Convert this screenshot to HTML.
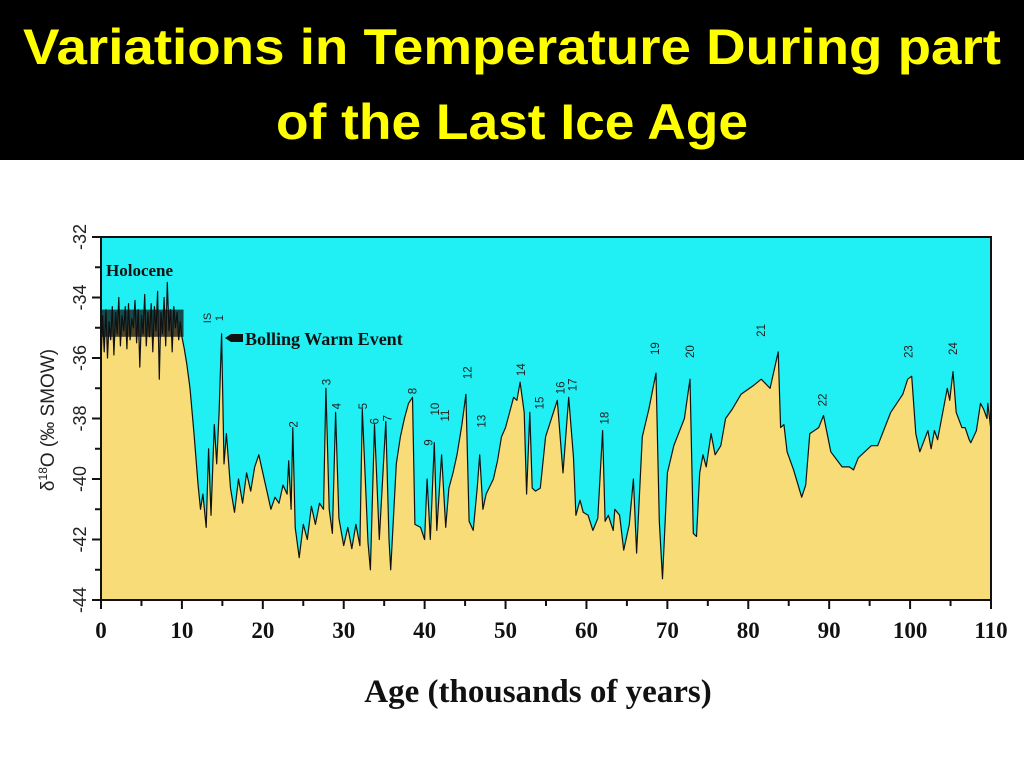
<!DOCTYPE html>
<html><head><meta charset="utf-8"><style>
html,body{margin:0;padding:0;background:#fff;width:1024px;height:768px;overflow:hidden}
svg{display:block}
</style></head><body>
<svg id="chart" width="1024" height="768" viewBox="0 0 1024 768" xmlns="http://www.w3.org/2000/svg">
<rect x="0" y="0" width="1024" height="160" fill="#000"/>
<text x="512" y="64" text-anchor="middle" font-family="Liberation Sans, sans-serif" font-weight="bold" font-size="50" fill="#ffff00" textLength="978" lengthAdjust="spacingAndGlyphs">Variations in Temperature During part</text>
<text x="512" y="139" text-anchor="middle" font-family="Liberation Sans, sans-serif" font-weight="bold" font-size="50" fill="#ffff00" textLength="472" lengthAdjust="spacingAndGlyphs">of the Last Ice Age</text>
<g id="plot"></g>
</svg>
<script>
const ages = [0,0.2,0.4,0.6,0.8,1,1.2,1.4,1.6,1.8,2,2.2,2.4,2.6,2.8,3,3.2,3.4,3.6,3.8,4,4.2,4.4,4.6,4.8,5,5.2,5.4,5.6,5.8,6,6.2,6.4,6.6,6.8,7,7.2,7.4,7.6,7.8,8,8.2,8.4,8.6,8.8,9,9.2,9.4,9.6,9.8,10,10.3,10.6,11,11.5,12,12.3,12.6,13,13.3,13.6,14,14.3,14.6,14.9,15.2,15.5,16,16.5,17,17.5,18,18.5,19,19.5,20,20.5,21,21.5,22,22.5,23,23.2,23.5,23.7,24,24.5,25,25.5,26,26.5,27,27.5,27.8,28.2,28.6,29,29.4,30,30.5,31,31.5,32,32.3,33,33.3,33.8,34.4,35.2,35.6,35.8,36.5,37,37.5,38,38.5,38.8,39.5,40,40.3,40.7,41.2,41.5,42.1,42.6,43,43.5,44,44.6,45.1,45.5,46,46.5,46.8,47.2,47.6,48.5,49,49.5,50,50.5,51,51.4,51.8,52.3,52.6,53,53.3,53.7,54.3,54.95,56.4,57.1,57.8,58.4,58.7,59.2,59.6,60.2,60.8,61.4,62.0,62.3,62.7,63.3,63.5,64.1,64.6,65.3,65.8,66.2,66.9,67.7,68.6,69.0,69.4,70.0,70.8,72.1,72.8,73.2,73.6,74.0,74.4,74.8,75.4,75.9,76.6,77.2,78.0,79.1,80.7,81.6,82.7,83.7,84.0,84.4,84.8,85.6,86.6,87.1,87.6,88.7,89.3,90.2,91.6,92.5,93.0,93.6,95.2,96.0,97.6,99.1,99.7,100.2,100.7,101.2,102.2,102.6,103.0,103.4,104.6,104.9,105.3,105.7,106.4,106.8,107.3,107.5,108.2,108.7,109.1,109.5,109.6,110];
const d18O = [-36.2,-34.6,-35.8,-34.4,-36.0,-34.8,-35.4,-34.3,-35.9,-34.5,-35.2,-34.0,-35.6,-34.6,-35.1,-34.3,-35.7,-34.2,-35.4,-34.7,-35.0,-34.1,-35.5,-34.4,-36.3,-34.6,-35.2,-33.9,-35.6,-34.5,-35.3,-34.2,-35.8,-34.3,-35.1,-33.8,-36.7,-34.5,-35.2,-34.0,-35.6,-33.5,-35.1,-34.4,-35.8,-34.3,-35.0,-34.5,-35.4,-34.8,-35.3,-35.7,-36.2,-37.0,-38.5,-40.2,-41.0,-40.5,-41.6,-39.0,-41.2,-38.2,-39.5,-37.8,-35.2,-39.5,-38.5,-40.3,-41.1,-40.0,-40.8,-39.8,-40.4,-39.6,-39.2,-39.8,-40.4,-41.0,-40.6,-40.8,-40.2,-40.5,-39.4,-41.0,-38.3,-41.6,-42.6,-41.5,-42.0,-40.9,-41.5,-40.8,-41.0,-37.0,-41.0,-41.8,-37.8,-41.3,-42.2,-41.6,-42.3,-41.5,-42.2,-37.7,-42.1,-43.0,-38.2,-42.0,-38.1,-42.0,-43.0,-39.5,-38.6,-38.0,-37.5,-37.3,-41.5,-41.6,-42.0,-40.0,-42.0,-38.8,-41.7,-39.2,-41.6,-40.3,-39.8,-39.2,-38.2,-37.2,-41.4,-41.7,-40.3,-39.2,-41.0,-40.5,-40.0,-39.4,-38.6,-38.3,-37.8,-37.3,-37.4,-36.8,-37.8,-40.5,-37.8,-40.3,-40.4,-40.3,-38.6,-37.4,-39.8,-37.3,-39.3,-41.2,-40.7,-41.1,-41.2,-41.7,-41.3,-38.4,-41.4,-41.2,-41.7,-41.0,-41.2,-42.35,-41.5,-40.0,-42.45,-38.6,-37.7,-36.5,-41.4,-43.3,-39.8,-38.9,-38.0,-36.7,-41.8,-41.9,-39.8,-39.2,-39.6,-38.5,-39.2,-38.9,-38.0,-37.7,-37.2,-36.9,-36.7,-37.0,-35.8,-38.3,-38.2,-39.1,-39.7,-40.6,-40.2,-38.5,-38.3,-37.9,-39.1,-39.6,-39.6,-39.7,-39.3,-38.9,-38.9,-37.8,-37.2,-36.7,-36.6,-38.5,-39.1,-38.4,-39.0,-38.4,-38.7,-37.0,-37.4,-36.45,-37.8,-38.3,-38.3,-38.7,-38.8,-38.4,-37.5,-37.7,-38.0,-37.5,-38.4];
const xTicks = [0,10,20,30,40,50,60,70,80,90,100,110];
const yTicks = [-32,-34,-36,-38,-40,-42,-44];
const eventNames = ["2","3","4","5","6","7","8","9","10","11","12","13","14","15","16","17","18","19","20","21","22","23","24"];
const eventAges = [23.8,27.9,29.1,32.4,33.8,35.4,38.5,40.5,41.3,42.5,45.3,47.0,51.9,54.2,56.8,58.3,62.2,68.5,72.8,81.6,89.2,99.8,105.3];
const eventVals = [-38.3,-36.9,-37.7,-37.7,-38.2,-38.1,-37.2,-38.9,-37.9,-38.1,-36.7,-38.3,-36.6,-37.7,-37.2,-37.1,-38.2,-35.9,-36.0,-35.3,-37.6,-36.0,-35.9];

const svg = document.getElementById('plot');
const NS = 'http://www.w3.org/2000/svg';
const L=101,R=991,T=237,B=600;
const xs = a => L + (a-0)/(110-0)*(R-L);
const ys = v => T + (-32 - v)/12*(B-T);
function mk(tag, attrs, parent){const e=document.createElementNS(NS,tag);for(const k in attrs)e.setAttribute(k,attrs[k]);(parent||svg).appendChild(e);return e;}

const bg = mk('rect',{x:L,y:T,width:R-L,height:B-T,fill:'#20f0f4'});


let d = 'M'+xs(ages[0])+','+B;
for(let i=0;i<ages.length;i++) d+=' L'+xs(ages[i]).toFixed(1)+','+ys(d18O[i]).toFixed(1);
d+=' L'+xs(ages[ages.length-1])+','+B+' Z';
const area = mk('path',{d:d,fill:'#f8dc78',stroke:'none'});


const hol = mk('rect',{x:xs(0),y:ys(-34.4),width:xs(10.2)-xs(0),height:ys(-35.3)-ys(-34.4),fill:'#111',opacity:0.75});


let ld='';
for(let i=0;i<ages.length;i++) ld+=(i?' L':'M')+xs(ages[i]).toFixed(1)+','+ys(d18O[i]).toFixed(1);
const line = mk('path',{d:ld,fill:'none',stroke:'#111',"stroke-width":1.2,"stroke-linejoin":"round"});



const frame = mk('rect',{x:L,y:T,width:R-L,height:B-T,fill:'none',stroke:'#111',"stroke-width":2});



xTicks.forEach(t=>{
  const tk = mk('line',{x1:xs(t),x2:xs(t),y1:B,y2:B+9,stroke:'#111',"stroke-width":2});
  
  
  if(t<110){const mt=mk('line',{x1:xs(t+5),x2:xs(t+5),y1:B,y2:B+6,stroke:'#111',"stroke-width":2});
  
  }
  const tx = mk('text',{x:xs(t),y:638,"text-anchor":"middle","font-family":"Liberation Serif, serif","font-weight":"bold","font-size":23,fill:'#111'});
  tx.textContent=t;
  
  
});
yTicks.forEach(t=>{
  const tk = mk('line',{x1:L-9,x2:L,y1:ys(t),y2:ys(t),stroke:'#111',"stroke-width":2});
  
  
  if(t>-44){const mt=mk('line',{x1:L-6,x2:L,y1:ys(t-1),y2:ys(t-1),stroke:'#111',"stroke-width":2});
  
  }
  const tx = mk('text',{x:0,y:0,transform:'translate(86,'+ys(t)+') rotate(-90)',"text-anchor":"middle","font-family":"Liberation Sans, sans-serif","font-size":18,fill:'#222'});
  tx.textContent=t;
  
  
});
eventNames.forEach((n,i)=>{
  const tx = mk('text',{x:0,y:0,transform:'translate('+(xs(eventAges[i])+4)+','+ys(eventVals[i])+') rotate(-90)',"text-anchor":"start","font-family":"Liberation Sans, sans-serif","font-size":11.5,fill:'#222'});
  tx.textContent=n;
  
  
});
</script>
<svg width="1024" height="768" style="position:absolute;left:0;top:0">
<text x="106" y="276" font-family="Liberation Serif, serif" font-weight="bold" font-size="17" fill="#111">Holocene</text>
<text transform="translate(211,318) rotate(-90)" text-anchor="middle" font-family="Liberation Sans, sans-serif" font-size="11" fill="#222">IS</text>
<text transform="translate(223,318) rotate(-90)" text-anchor="middle" font-family="Liberation Sans, sans-serif" font-size="11" fill="#222">1</text>
<path d="M225,338 L231,334 L243,334 L243,342 L231,342 Z" fill="#111"/>
<text x="245" y="345" font-family="Liberation Serif, serif" font-weight="bold" font-size="18" fill="#111">Bolling Warm Event</text>
<text transform="translate(54,420) rotate(-90)" text-anchor="middle" font-family="Liberation Sans, sans-serif" font-size="19" fill="#222">δ<tspan font-size="12" dy="-7">18</tspan><tspan dy="7">O (‰ SMOW)</tspan></text>
<text x="538" y="702" text-anchor="middle" font-family="Liberation Serif, serif" font-weight="bold" font-size="33" fill="#111">Age (thousands of years)</text>
</svg>
</body></html>
